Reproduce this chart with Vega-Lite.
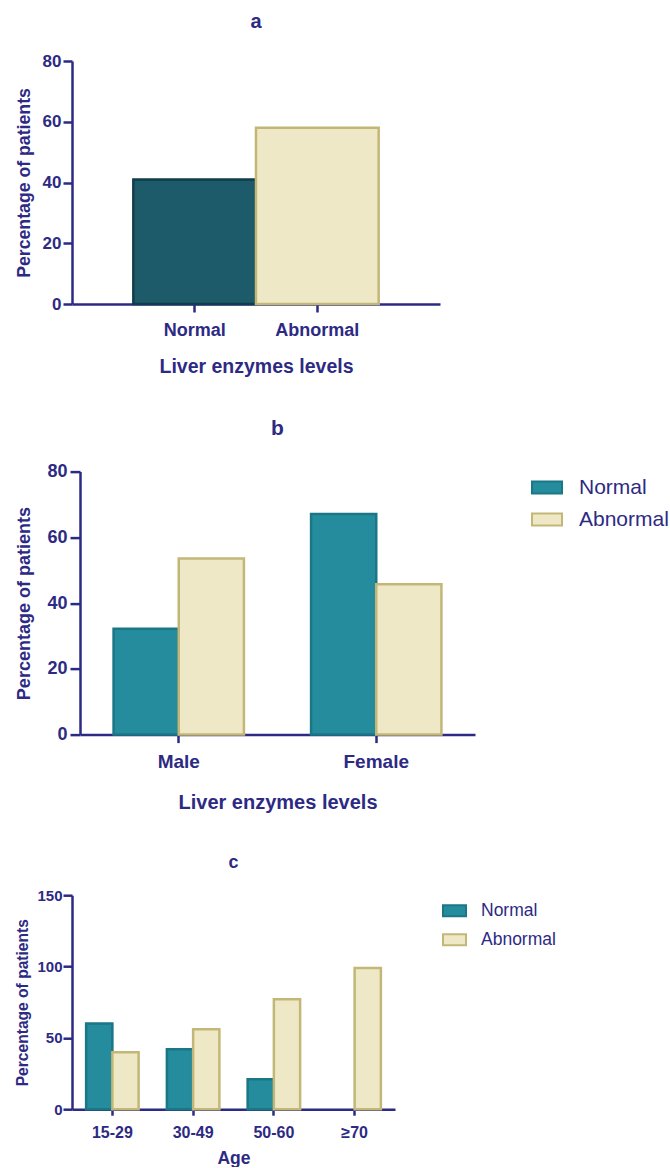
{
  "$schema": "https://vega.github.io/schema/vega-lite/v6.json",
  "background": "white",
  "padding": {"left": 14, "top": 12, "right": 0, "bottom": 0},
  "spacing": 41.6,
  "config": {
    "font": "Liberation Sans",
    "view": {"stroke": null},
    "axis": {
      "domainColor": "#2d2a84", "tickColor": "#2d2a84", "labelColor": "#2d2a84", "titleColor": "#2d2a84",
      "labelFont": "Liberation Sans", "titleFont": "Liberation Sans",
      "labelFontWeight": "bold", "titleFontWeight": "bold",
      "domainWidth": 2.5, "tickWidth": 2.5, "grid": false, "labelAngle": 0
    },
    "title": {"color": "#2d2a84", "font": "Liberation Sans", "fontWeight": "bold", "anchor": "middle", "frame": "group"},
    "legend": {"labelColor": "#2d2a84", "labelFont": "Liberation Sans", "padding": 0, "title": null}
  },
  "datasets": {
    "empty": [],
    "liver": [
      {"level": "Normal", "pct": 41},
      {"level": "Abnormal", "pct": 58}
    ],
    "gender": [
      {"gender": "Male", "status": "Normal", "pct": 32.2},
      {"gender": "Male", "status": "Abnormal", "pct": 53.6},
      {"gender": "Female", "status": "Normal", "pct": 67.1},
      {"gender": "Female", "status": "Abnormal", "pct": 45.7}
    ],
    "age": [
      {"age": "15-29", "status": "Normal", "pct": 60},
      {"age": "15-29", "status": "Abnormal", "pct": 40},
      {"age": "30-49", "status": "Normal", "pct": 42},
      {"age": "30-49", "status": "Abnormal", "pct": 56},
      {"age": "50-60", "status": "Normal", "pct": 21},
      {"age": "50-60", "status": "Abnormal", "pct": 77},
      {"age": "≥70", "status": "Abnormal", "pct": 99}
    ]
  },
  "resolve": {"scale": {"fill": "independent", "stroke": "independent", "y": "independent", "x": "independent", "xOffset": "independent"}, "legend": {"fill": "independent", "stroke": "independent"}},
  "vconcat": [
    {"spacing": 0, "hconcat": [
      {"width": 1, "height": 1, "data": {"name": "empty"}, "mark": "point"},
      {
      "width": 368, "height": 243,
      "title": {"text": "a", "fontSize": 20, "offset": 20},
      "data": {"name": "liver"},
      "mark": {"type": "bar", "strokeWidth": 2.5},
      "encoding": {
        "x": {"field": "level", "type": "nominal", "sort": ["Normal", "Abnormal"],
              "scale": {"paddingInner": 0, "paddingOuter": 0.5},
              "axis": {"title": "Liver enzymes levels", "labelFontSize": 18, "titleFontSize": 19.5, "tickSize": 8, "labelPadding": 9, "titlePadding": 18}},
        "y": {"field": "pct", "type": "quantitative", "scale": {"domain": [0, 80]},
              "axis": {"title": "Percentage of patients", "values": [0, 20, 40, 60, 80], "labelFontSize": 17, "titleFontSize": 17.7, "tickSize": 9, "labelPadding": 2, "titlePadding": 9}},
        "fill": {"field": "level", "type": "nominal", "scale": {"domain": ["Normal", "Abnormal"], "range": ["#1d5b6a", "#efe8c6"]}, "legend": null},
        "stroke": {"field": "level", "type": "nominal", "scale": {"domain": ["Normal", "Abnormal"], "range": ["#0f3d4a", "#c3b777"]}, "legend": null}
      }
    }]},
    {"spacing": 0, "hconcat": [
      {"width": 1, "height": 1, "data": {"name": "empty"}, "mark": "point"},
      {
      "width": 395, "height": 263,
      "title": {"text": "b", "fontSize": 21, "offset": 24},
      "data": {"name": "gender"},
      "mark": {"type": "bar", "strokeWidth": 2.5},
      "encoding": {
        "x": {"field": "gender", "type": "nominal", "sort": ["Male", "Female"],
              "scale": {"paddingInner": 0.34, "paddingOuter": 0.17},
              "axis": {"title": "Liver enzymes levels", "labelFontSize": 19, "titleFontSize": 20, "tickSize": 8, "labelPadding": 10, "titlePadding": 21}},
        "xOffset": {"field": "status", "type": "nominal", "sort": ["Normal", "Abnormal"]},
        "y": {"field": "pct", "type": "quantitative", "scale": {"domain": [0, 80]},
              "axis": {"title": "Percentage of patients", "values": [0, 20, 40, 60, 80], "labelFontSize": 18, "titleFontSize": 18, "tickSize": 10, "labelPadding": 3, "titlePadding": 13}},
        "fill": {"field": "status", "type": "nominal", "scale": {"domain": ["Normal", "Abnormal"], "range": ["#248c9c", "#efe8c6"]},
                 "legend": {"orient": "right", "offset": 56, "labelFontSize": 21, "symbolType": "M-1,-0.4H1V0.4H-1Z", "symbolSize": 900, "symbolStrokeWidth": 2, "labelOffset": 16, "rowPadding": 6}},
        "stroke": {"field": "status", "type": "nominal", "scale": {"domain": ["Normal", "Abnormal"], "range": ["#1b7786", "#c3b777"]},
                 "legend": {"orient": "right", "offset": 56, "labelFontSize": 21, "symbolType": "M-1,-0.4H1V0.4H-1Z", "symbolSize": 900, "symbolStrokeWidth": 2, "labelOffset": 16, "rowPadding": 6}}
      }
    }]},
    {"spacing": 0, "hconcat": [
      {"width": 1, "height": 1, "data": {"name": "empty"}, "mark": "point"},
      {
      "width": 323, "height": 214,
      "title": {"text": "c", "fontSize": 18, "offset": 16},
      "data": {"name": "age"},
      "mark": {"type": "bar", "strokeWidth": 2.5},
      "encoding": {
        "x": {"field": "age", "type": "nominal", "sort": ["15-29", "30-49", "50-60", "≥70"],
              "scale": {"paddingInner": 0.35, "paddingOuter": 0.175},
              "axis": {"title": "Age", "labelFontSize": 16, "titleFontSize": 17.5, "tickSize": 6, "labelPadding": 9, "titlePadding": 9}},
        "xOffset": {"field": "status", "type": "nominal", "sort": ["Normal", "Abnormal"]},
        "y": {"field": "pct", "type": "quantitative", "scale": {"domain": [0, 150]},
              "axis": {"title": "Percentage of patients", "values": [0, 50, 100, 150], "labelFontSize": 15, "titleFontSize": 15.6, "tickSize": 9, "labelPadding": 1, "titlePadding": 6}},
        "fill": {"field": "status", "type": "nominal", "scale": {"domain": ["Normal", "Abnormal"], "range": ["#248c9c", "#efe8c6"]},
                 "legend": {"orient": "right", "offset": 44, "padding": 3, "labelFontSize": 17.5, "symbolType": "M-1,-0.478H1V0.478H-1Z", "symbolSize": 529, "symbolStrokeWidth": 2, "labelOffset": 14, "rowPadding": 7}},
        "stroke": {"field": "status", "type": "nominal", "scale": {"domain": ["Normal", "Abnormal"], "range": ["#1b7786", "#c3b777"]},
                 "legend": {"orient": "right", "offset": 44, "padding": 3, "labelFontSize": 17.5, "symbolType": "M-1,-0.478H1V0.478H-1Z", "symbolSize": 529, "symbolStrokeWidth": 2, "labelOffset": 14, "rowPadding": 7}}
      }
    }]}
  ]
}
